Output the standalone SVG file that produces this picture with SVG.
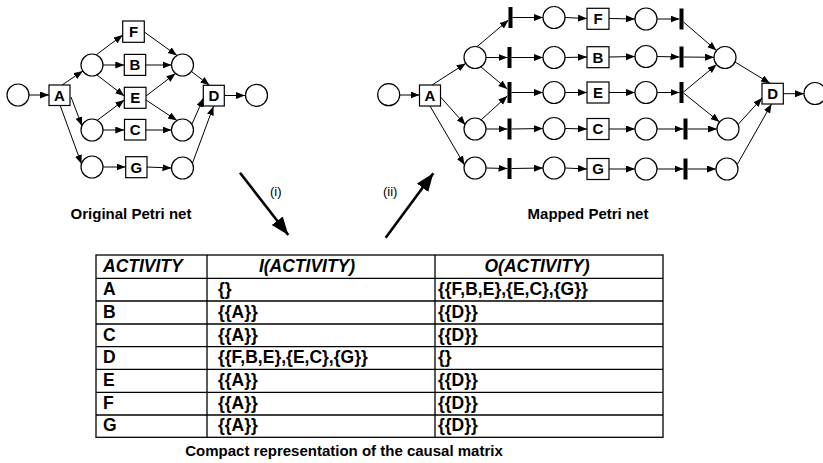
<svg xmlns="http://www.w3.org/2000/svg" width="823" height="463" viewBox="0 0 823 463">
<style>
  .pl { fill: #fff; stroke: #000; stroke-width: 1.2; }
  .tr { fill: #fff; stroke: #000; stroke-width: 1.2; }
  .bar { fill: #000; }
  .lbl { font-family: "Liberation Sans", Arial, sans-serif; font-weight: bold; font-size: 15px; text-anchor: middle; fill: #000; }
  .arc { stroke: #000; stroke-width: 1; fill: none; marker-end: url(#ah); }
  .big { stroke: #000; stroke-width: 2.6; fill: none; marker-end: url(#bh); }
  .cap { font-family: "Liberation Sans", Arial, sans-serif; font-weight: bold; font-size: 15px; text-anchor: middle; fill: #000; }
  .rom { font-family: "Liberation Sans", Arial, sans-serif; font-size: 13px; fill: #000; }
  .tb { font-family: "Liberation Sans", Arial, sans-serif; font-weight: bold; font-size: 17.5px; fill: #000; }
  .th { font-family: "Liberation Sans", Arial, sans-serif; font-weight: bold; font-style: italic; font-size: 17.5px; fill: #000; }
  .grid { stroke: #000; stroke-width: 1.3; fill: none; }
</style>
<defs>
  <marker id="ah" markerUnits="userSpaceOnUse" markerWidth="10" markerHeight="8" refX="9" refY="3.5" orient="auto">
    <path d="M0,0 L9,3.5 L0,7 z" fill="#000"/>
  </marker>
  <marker id="bh" markerUnits="userSpaceOnUse" markerWidth="19" markerHeight="15" refX="18" refY="7" orient="auto">
    <path d="M0,0 L18,7 L0,14 z" fill="#000"/>
  </marker>
</defs>

<!-- Left (original) Petri net -->
<g id="connectors-left">
  <line class="arc" x1="29" y1="95" x2="49" y2="95"/>
  <line class="arc" x1="62" y1="85" x2="82.8" y2="71.1"/>
  <line class="arc" x1="71" y1="97" x2="82" y2="126"/>
  <line class="arc" x1="60" y1="105" x2="81.5" y2="164"/>
  <line class="arc" x1="96" y1="55" x2="122.7" y2="35"/>
  <line class="arc" x1="103" y1="65" x2="124.3" y2="65"/>
  <line class="arc" x1="97" y1="75" x2="124.3" y2="96"/>
  <line class="arc" x1="97" y1="120.5" x2="124.3" y2="100"/>
  <line class="arc" x1="103" y1="130" x2="124.3" y2="130"/>
  <line class="arc" x1="103" y1="167" x2="125.5" y2="167"/>
  <line class="arc" x1="144.3" y1="32" x2="177" y2="55.5"/>
  <line class="arc" x1="145.7" y1="65" x2="171.5" y2="65"/>
  <line class="arc" x1="146" y1="96" x2="175.5" y2="73.5"/>
  <line class="arc" x1="146" y1="100" x2="177" y2="120.5"/>
  <line class="arc" x1="145.7" y1="130" x2="171.5" y2="130"/>
  <line class="arc" x1="147" y1="167" x2="171.5" y2="168"/>
  <line class="arc" x1="191.5" y1="71.5" x2="209.5" y2="85.3"/>
  <line class="arc" x1="192" y1="124" x2="203.5" y2="98"/>
  <line class="arc" x1="192.5" y1="163" x2="213.5" y2="106.3"/>
  <line class="arc" x1="224.3" y1="95.5" x2="245" y2="95.5"/>
</g>
<g id="L-p0"><circle class="pl" cx="18" cy="95" r="11"/></g>
<g id="L-A"><rect class="tr" x="49" y="85" width="21" height="20.5"/><text class="lbl" x="59.5" y="100.8">A</text></g>
<g id="L-p1"><circle class="pl" cx="92" cy="65" r="11"/></g>
<g id="L-p2"><circle class="pl" cx="92" cy="130" r="11"/></g>
<g id="L-p3"><circle class="pl" cx="92" cy="167" r="11"/></g>
<g id="L-F"><rect class="tr" x="122.7" y="21" width="21.6" height="21.3"/><text class="lbl" x="133.5" y="37">F</text></g>
<g id="L-B"><rect class="tr" x="124.3" y="54.4" width="21.4" height="21"/><text class="lbl" x="135" y="70.3">B</text></g>
<g id="L-E"><rect class="tr" x="124.3" y="87.3" width="21.7" height="21"/><text class="lbl" x="135.2" y="103.2">E</text></g>
<g id="L-C"><rect class="tr" x="124.5" y="119.4" width="21.3" height="20.6"/><text class="lbl" x="135.2" y="135.2">C</text></g>
<g id="L-G"><rect class="tr" x="125.7" y="156.7" width="21.3" height="21"/><text class="lbl" x="136.3" y="172.6">G</text></g>
<g id="L-p4"><circle class="pl" cx="182.5" cy="65" r="11"/></g>
<g id="L-p5"><circle class="pl" cx="182.5" cy="130" r="11"/></g>
<g id="L-p6"><circle class="pl" cx="182.5" cy="168" r="11"/></g>
<g id="L-D"><rect class="tr" x="203.3" y="85.3" width="21" height="20.7"/><text class="lbl" x="213.8" y="101">D</text></g>
<g id="L-p7"><circle class="pl" cx="256.5" cy="95.3" r="11"/></g>
<text class="cap" x="131" y="219">Original Petri net</text>

<!-- Right (mapped) Petri net -->
<g id="connectors-right">
  <line class="arc" x1="399.7" y1="95" x2="419.5" y2="95"/>
  <line class="arc" x1="432" y1="85" x2="465.7" y2="63.4"/>
  <line class="arc" x1="440.5" y1="97" x2="465.5" y2="125"/>
  <line class="arc" x1="430" y1="106" x2="464.5" y2="165"/>
  <line class="arc" x1="477" y1="46.7" x2="508.5" y2="20"/>
  <line class="arc" x1="486" y1="57.5" x2="507.5" y2="57.5"/>
  <line class="arc" x1="481" y1="67" x2="507.3" y2="89"/>
  <line class="arc" x1="481" y1="120" x2="507.3" y2="96"/>
  <line class="arc" x1="486" y1="129" x2="507.5" y2="129"/>
  <line class="arc" x1="486" y1="168" x2="507.5" y2="168.5"/>
  <line class="arc" x1="512.5" y1="17.5" x2="543" y2="17.5"/>
  <line class="arc" x1="511.5" y1="57.5" x2="543" y2="57.5"/>
  <line class="arc" x1="511.5" y1="92.5" x2="543" y2="92.5"/>
  <line class="arc" x1="511.5" y1="129" x2="543" y2="128.5"/>
  <line class="arc" x1="511.5" y1="168.5" x2="543" y2="168"/>
  <line class="arc" x1="565" y1="17.5" x2="587" y2="18.5"/>
  <line class="arc" x1="565" y1="57.5" x2="587" y2="57"/>
  <line class="arc" x1="565" y1="92.5" x2="587" y2="92.5"/>
  <line class="arc" x1="565" y1="128.5" x2="587" y2="129"/>
  <line class="arc" x1="565" y1="168" x2="587" y2="169"/>
  <line class="arc" x1="609" y1="18.5" x2="635" y2="19"/>
  <line class="arc" x1="609" y1="57" x2="635" y2="56.5"/>
  <line class="arc" x1="609" y1="92.5" x2="635" y2="92.5"/>
  <line class="arc" x1="609" y1="129" x2="635" y2="129"/>
  <line class="arc" x1="609" y1="169" x2="635" y2="169"/>
  <line class="arc" x1="657" y1="19" x2="679.5" y2="19"/>
  <line class="arc" x1="657" y1="56.5" x2="679.5" y2="57"/>
  <line class="arc" x1="657" y1="92.5" x2="679.5" y2="92.5"/>
  <line class="arc" x1="657" y1="129" x2="683.5" y2="129"/>
  <line class="arc" x1="657" y1="169" x2="683.5" y2="169"/>
  <line class="arc" x1="683.5" y1="22" x2="716.5" y2="50.5"/>
  <line class="arc" x1="683.5" y1="57" x2="714" y2="57.3"/>
  <line class="arc" x1="683.5" y1="92" x2="716.6" y2="64.6"/>
  <line class="arc" x1="683.5" y1="93" x2="719.5" y2="122"/>
  <line class="arc" x1="687.5" y1="129" x2="717" y2="129"/>
  <line class="arc" x1="687.5" y1="169" x2="716" y2="169"/>
  <line class="arc" x1="735" y1="62" x2="770" y2="83.3"/>
  <line class="arc" x1="738.5" y1="124" x2="762" y2="98"/>
  <line class="arc" x1="737.5" y1="164" x2="771.5" y2="104"/>
  <line class="arc" x1="783.3" y1="93.7" x2="804" y2="93.7"/>
</g>
<g id="R-p0"><circle class="pl" cx="388.7" cy="94.7" r="11"/></g>
<g id="R-A"><rect class="tr" x="419.5" y="85" width="21" height="21"/><text class="lbl" x="430" y="101">A</text></g>
<g id="R-p1"><circle class="pl" cx="475" cy="57.5" r="11"/></g>
<g id="R-p2"><circle class="pl" cx="475" cy="129" r="11"/></g>
<g id="R-p3"><circle class="pl" cx="475" cy="168" r="11"/></g>
<g id="R-t1"><rect class="bar" x="508.5" y="7" width="4" height="21"/></g>
<g id="R-t2"><rect class="bar" x="507.5" y="47" width="4" height="21"/></g>
<g id="R-t3"><rect class="bar" x="507.5" y="82" width="4" height="21"/></g>
<g id="R-t4"><rect class="bar" x="507.5" y="118.5" width="4" height="21"/></g>
<g id="R-t5"><rect class="bar" x="507.5" y="158" width="4" height="21"/></g>
<g id="R-q1"><circle class="pl" cx="554" cy="17.5" r="11"/></g>
<g id="R-q2"><circle class="pl" cx="554" cy="57.5" r="11"/></g>
<g id="R-q3"><circle class="pl" cx="554" cy="92.5" r="11"/></g>
<g id="R-q4"><circle class="pl" cx="554" cy="128.5" r="11"/></g>
<g id="R-q5"><circle class="pl" cx="554" cy="168" r="11"/></g>
<g id="R-F"><rect class="tr" x="587" y="8.3" width="22" height="21"/><text class="lbl" x="598" y="24">F</text></g>
<g id="R-B"><rect class="tr" x="587" y="46.7" width="22" height="21"/><text class="lbl" x="598" y="62.5">B</text></g>
<g id="R-E"><rect class="tr" x="587" y="82" width="22" height="21"/><text class="lbl" x="598" y="97.8">E</text></g>
<g id="R-C"><rect class="tr" x="587" y="118.5" width="22" height="21"/><text class="lbl" x="598" y="134.3">C</text></g>
<g id="R-G"><rect class="tr" x="587" y="158.5" width="22" height="21"/><text class="lbl" x="598" y="174.3">G</text></g>
<g id="R-r1"><circle class="pl" cx="646" cy="19" r="11"/></g>
<g id="R-r2"><circle class="pl" cx="646" cy="56.5" r="11"/></g>
<g id="R-r3"><circle class="pl" cx="646" cy="92.5" r="11"/></g>
<g id="R-r4"><circle class="pl" cx="646" cy="129" r="11"/></g>
<g id="R-r5"><circle class="pl" cx="646" cy="169" r="11"/></g>
<g id="R-u1"><rect class="bar" x="679.5" y="8.5" width="4" height="21"/></g>
<g id="R-u2"><rect class="bar" x="679.5" y="46.5" width="4" height="21"/></g>
<g id="R-u3"><rect class="bar" x="679.5" y="82" width="4" height="21"/></g>
<g id="R-u4"><rect class="bar" x="683.5" y="118.5" width="4" height="21"/></g>
<g id="R-u5"><rect class="bar" x="683.5" y="158.5" width="4" height="21"/></g>
<g id="R-s1"><circle class="pl" cx="725" cy="57.5" r="11"/></g>
<g id="R-s2"><circle class="pl" cx="728" cy="129" r="11"/></g>
<g id="R-s3"><circle class="pl" cx="727" cy="169" r="11"/></g>
<g id="R-D"><rect class="tr" x="762" y="83.3" width="21.3" height="20.7"/><text class="lbl" x="772.6" y="99">D</text></g>
<g id="R-end"><circle class="pl" cx="815" cy="93.5" r="11"/></g>
<text class="cap" x="588" y="219">Mapped Petri net</text>

<!-- Big mapping arrows -->
<g id="connectors-mapping">
  <line class="big" x1="240" y1="172.7" x2="288.3" y2="235"/>
  <line class="big" x1="385.7" y1="237.7" x2="433.3" y2="173.3"/>
</g>
<text class="rom" x="270" y="196">(i)</text>
<text class="rom" x="383" y="196">(ii)</text>

<!-- Table -->
<g id="table">
  <rect class="grid" x="96" y="255" width="567" height="182.3"/>
  <line class="grid" x1="207" y1="255" x2="207" y2="437.3"/>
  <line class="grid" x1="435" y1="255" x2="435" y2="437.3"/>
  <line class="grid" x1="96" y1="278.3" x2="663" y2="278.3"/>
  <line class="grid" x1="96" y1="301" x2="663" y2="301"/>
  <line class="grid" x1="96" y1="324" x2="663" y2="324"/>
  <line class="grid" x1="96" y1="346.7" x2="663" y2="346.7"/>
  <line class="grid" x1="96" y1="369.3" x2="663" y2="369.3"/>
  <line class="grid" x1="96" y1="392.3" x2="663" y2="392.3"/>
  <line class="grid" x1="96" y1="415" x2="663" y2="415"/>
  <text class="th" x="103" y="272">ACTIVITY</text>
  <text class="th" x="307" y="272" text-anchor="middle">I(ACTIVITY)</text>
  <text class="th" x="537" y="272" text-anchor="middle">O(ACTIVITY)</text>
  <text class="tb" x="103" y="295">A</text><text class="tb" x="218" y="295">{}</text><text class="tb" x="438" y="295">{{F,B,E},{E,C},{G}}</text>
  <text class="tb" x="103" y="317.7">B</text><text class="tb" x="218" y="317.7">{{A}}</text><text class="tb" x="438" y="317.7">{{D}}</text>
  <text class="tb" x="103" y="340.5">C</text><text class="tb" x="218" y="340.5">{{A}}</text><text class="tb" x="438" y="340.5">{{D}}</text>
  <text class="tb" x="103" y="363.2">D</text><text class="tb" x="218" y="363.2">{{F,B,E},{E,C},{G}}</text><text class="tb" x="438" y="363.2">{}</text>
  <text class="tb" x="103" y="386">E</text><text class="tb" x="218" y="386">{{A}}</text><text class="tb" x="438" y="386">{{D}}</text>
  <text class="tb" x="103" y="408.7">F</text><text class="tb" x="218" y="408.7">{{A}}</text><text class="tb" x="438" y="408.7">{{D}}</text>
  <text class="tb" x="103" y="431.4">G</text><text class="tb" x="218" y="431.4">{{A}}</text><text class="tb" x="438" y="431.4">{{D}}</text>
</g>
<text class="cap" x="344" y="456">Compact representation of the causal matrix</text>
</svg>
